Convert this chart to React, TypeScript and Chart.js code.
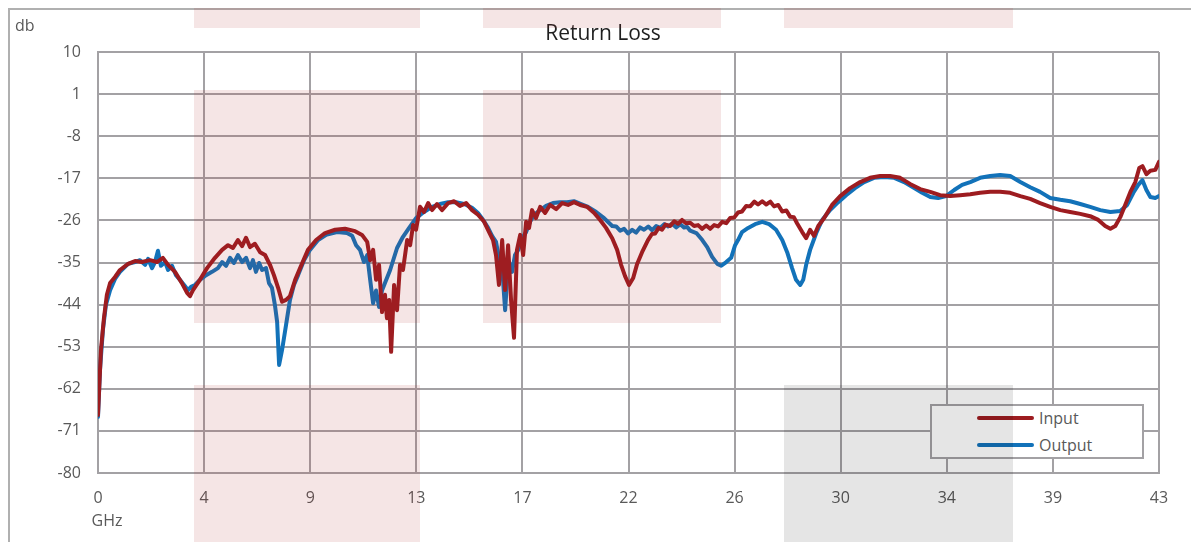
import React, { useEffect, useRef } from "react";
import { Chart, registerables } from "chart.js";

Chart.register(...registerables);

const chartTitle = "Return Loss";
const yAxisLabel = "db";
const xAxisLabel = "GHz";

const xTickValues = [0, 4.3, 8.6, 12.9, 17.2, 21.5, 25.8, 30.1, 34.4, 38.7, 43];
const xTickLabels = ["0", "4", "9", "13", "17", "22", "26", "30", "34", "39", "43"];
const yTickValues = [-80, -71, -62, -53, -44, -35, -26, -17, -8, 1, 10];

const inputFreq = [
  0, 0.12, 0.24, 0.36, 0.49, 0.69, 0.89, 1.22, 1.5, 1.78, 2.11, 2.39, 2.63, 2.84, 3.12, 3.4, 3.61, 3.73, 3.85,
  4.13, 4.42, 4.74, 5.03, 5.27, 5.47, 5.67, 5.84, 6.0, 6.16, 6.36, 6.57, 6.77, 6.97, 7.13, 7.3, 7.46, 7.62, 7.78,
  7.99, 8.19, 8.51, 8.84, 9.2, 9.61, 10.01, 10.42, 10.7, 10.91, 11.03, 11.15, 11.27, 11.39, 11.51, 11.63, 11.71,
  11.8, 11.88, 12.0, 12.12, 12.24, 12.36, 12.53, 12.65, 12.77, 12.89, 13.05, 13.21, 13.38, 13.54, 13.74, 13.94,
  14.19, 14.43, 14.67, 14.92, 15.16, 15.4, 15.65, 15.85, 16.01, 16.13, 16.25, 16.38, 16.5, 16.62, 16.74, 16.86,
  16.98, 17.11, 17.23, 17.35, 17.47, 17.59, 17.75, 17.92, 18.12, 18.32, 18.57, 18.81, 19.05, 19.29, 19.54, 19.82,
  20.11, 20.35, 20.59, 20.84, 21.04, 21.2, 21.36, 21.52, 21.69, 21.85, 22.05, 22.29, 22.45, 22.58, 22.72, 22.86,
  23.0, 23.19, 23.35, 23.51, 23.67, 23.83, 24.0, 24.16, 24.32, 24.48, 24.65, 24.81, 24.97, 25.13, 25.3, 25.46,
  25.62, 25.78, 25.94, 26.1, 26.27, 26.43, 26.6, 26.75, 26.92, 27.08, 27.25, 27.4, 27.57, 27.73, 27.9, 28.05,
  28.2, 28.33, 28.54, 28.7, 28.86, 29.02, 29.19, 29.43, 29.75, 30.08, 30.48, 30.89, 31.29, 31.7, 32.1, 32.51,
  32.91, 33.32, 33.73, 34.13, 34.54, 34.94, 35.35, 35.75, 36.16, 36.56, 36.97, 37.38, 37.78, 38.18, 38.59, 39.0,
  39.4, 39.81, 40.21, 40.54, 40.82, 41.03, 41.23, 41.43, 41.63, 41.84, 42.04, 42.2, 42.33, 42.49, 42.65, 42.85,
  43.0,
];
const inputDb = [
  -67.6, -53.7, -46.9, -41.9, -39.4, -38.1, -36.6, -35.3, -34.7, -34.9, -34.5, -34.9, -34.0, -35.5, -37.0, -39.4,
  -41.5, -42.2, -40.9, -38.7, -36.2, -34.0, -32.3, -31.3, -31.9, -30.2, -31.5, -29.7, -31.7, -31.0, -32.8, -33.4,
  -35.5, -37.7, -40.4, -43.4, -43.0, -42.2, -38.7, -36.2, -32.3, -30.2, -28.7, -28.0, -27.8, -28.3, -29.1, -30.6,
  -34.5, -32.3, -38.7, -35.5, -45.6, -41.9, -46.9, -43.0, -54.1, -39.8, -45.2, -35.5, -36.6, -30.2, -31.3, -27.0,
  -28.0, -23.1, -24.2, -22.3, -23.8, -22.5, -23.8, -22.3, -21.9, -22.9, -22.3, -23.8, -24.8, -26.3, -28.5, -30.2,
  -33.4, -39.8, -30.2, -40.9, -31.3, -43.0, -51.1, -32.3, -29.1, -33.4, -26.3, -27.6, -23.8, -25.5, -23.1, -24.4,
  -22.7, -23.6, -22.3, -22.7, -22.1, -22.7, -23.1, -24.4, -25.9, -27.6, -29.8, -32.3, -35.5, -37.9, -39.8, -38.3,
  -35.3, -32.8, -30.2, -28.9, -28.8, -27.6, -28.0, -26.9, -27.2, -26.2, -26.7, -25.9, -26.6, -26.5, -27.2, -27.0,
  -27.8, -27.1, -27.8, -27.0, -27.3, -26.3, -26.6, -25.5, -25.4, -24.3, -24.1, -22.9, -23.0, -22.0, -22.6, -21.9,
  -22.6, -22.0, -23.0, -22.7, -24.1, -23.9, -25.2, -25.3, -26.6, -28.5, -29.8, -28.0, -29.3, -27.2, -25.5, -22.7,
  -20.8, -19.1, -17.8, -16.9, -16.5, -16.5, -16.9, -18.2, -19.3, -19.9, -20.6, -20.8, -20.6, -20.4, -20.1, -19.9,
  -19.9, -20.1, -20.8, -21.4, -22.3, -23.1, -23.8, -24.2, -24.6, -25.1, -25.9, -27.2, -27.8, -27.2, -25.3, -22.7,
  -19.9, -17.8, -14.8, -14.4, -16.1, -15.4, -15.2, -13.5,
];

const outputFreq = [
  0, 0.08, 0.2, 0.32, 0.49, 0.69, 0.89, 1.22, 1.5, 1.7, 1.91, 2.03, 2.19, 2.31, 2.43, 2.55, 2.72, 2.84, 3.0, 3.16,
  3.32, 3.49, 3.65, 3.77, 3.93, 4.13, 4.38, 4.62, 4.86, 5.03, 5.19, 5.35, 5.51, 5.67, 5.84, 6.0, 6.16, 6.28, 6.4,
  6.53, 6.65, 6.81, 6.93, 7.05, 7.17, 7.26, 7.34, 7.46, 7.62, 7.78, 7.94, 8.11, 8.35, 8.59, 8.92, 9.28, 9.69, 10.09,
  10.3, 10.46, 10.62, 10.78, 10.91, 11.03, 11.15, 11.27, 11.39, 11.51, 11.63, 11.84, 12.12, 12.36, 12.61, 12.89,
  13.21, 13.54, 13.86, 14.19, 14.51, 14.84, 15.16, 15.4, 15.61, 15.81, 15.97, 16.13, 16.25, 16.38, 16.5, 16.58,
  16.66, 16.78, 16.9, 17.03, 17.19, 17.35, 17.51, 17.67, 17.92, 18.16, 18.44, 18.73, 19.01, 19.29, 19.58, 19.86,
  20.19, 20.51, 20.84, 21.0, 21.16, 21.32, 21.48, 21.65, 21.81, 21.97, 22.13, 22.3, 22.46, 22.62, 22.78, 22.95,
  23.11, 23.27, 23.43, 23.6, 23.75, 23.88, 24.0, 24.25, 24.49, 24.69,
  24.89, 25.1, 25.26, 25.46, 25.66, 25.82, 25.94, 26.1, 26.35, 26.63, 26.92, 27.2, 27.48, 27.73, 27.93, 28.13,
  28.29, 28.46, 28.58, 28.7, 28.86, 29.11, 29.35, 29.67, 30.0, 30.32, 30.68, 31.05, 31.45, 31.86, 32.27, 32.67,
  33.08, 33.4, 33.73, 34.05, 34.37, 34.7, 35.02, 35.35, 35.75, 36.16, 36.56, 36.97, 37.38, 37.78, 38.18, 38.59,
  39.0, 39.4, 39.81, 40.21, 40.62, 41.03, 41.43, 41.71, 41.96, 42.16, 42.33, 42.49, 42.65, 42.85, 43.0,
];
const outputDb = [
  -68.0, -58.0, -49.4, -44.1, -40.9, -38.5, -37.0, -35.3, -34.9, -34.5, -35.5, -34.2, -36.2, -34.9, -32.5, -35.7,
  -34.9, -36.6, -35.7, -37.7, -38.7, -39.8, -40.9, -40.2, -39.8, -38.7, -37.7, -37.0, -36.2, -34.9, -35.7, -34.0,
  -35.1, -33.4, -34.9, -34.0, -36.2, -34.5, -37.0, -35.1, -36.6, -36.2, -39.4, -40.4, -44.1, -47.7, -56.9, -53.7,
  -48.4, -43.0, -39.8, -37.7, -34.5, -32.3, -30.2, -29.0, -28.5, -28.7, -29.3, -31.3, -32.3, -34.9, -33.4, -38.7,
  -43.7, -41.0, -44.5, -41.0, -39.4, -36.6, -31.9, -29.5, -27.6, -25.5, -24.2, -23.1, -22.5, -22.1, -22.1, -22.5,
  -23.3, -24.4, -25.9, -27.6, -29.3, -30.6, -34.0, -36.2, -45.2, -38.7, -34.9, -37.0, -33.4, -32.3, -29.8, -28.5,
  -26.3, -24.8, -23.8, -22.9, -22.3, -22.1, -22.1, -21.9, -22.5, -23.1, -24.2, -25.5, -27.2, -27.3, -28.2, -27.8,
  -28.8, -28.0, -28.6, -27.5, -28.0, -27.3, -28.1, -27.2, -27.6, -26.8, -27.3, -26.7, -27.5, -26.8, -27.5, -27.4,
  -28.2, -28.7, -30.2, -31.7, -33.8, -35.3, -35.7, -34.9, -34.0, -31.3,
  -30.2, -28.5, -27.6, -26.8, -26.3, -26.8, -28.0, -30.2, -32.8, -36.2, -38.7, -39.8, -38.7, -35.5, -32.3, -28.7,
  -25.9, -23.8, -22.1, -20.6, -19.1, -17.8, -16.9, -16.7, -16.9, -17.8, -19.1, -20.1, -21.0, -21.2, -20.8, -19.5,
  -18.4, -17.8, -16.9, -16.5, -16.3, -16.5, -17.8, -18.9, -19.9, -21.2, -21.6, -21.9, -22.5, -23.1, -23.8, -24.2,
  -24.0, -22.7, -20.1, -18.4, -17.4, -19.5, -21.0, -21.2, -20.8,
];

const seriesNames = ["Input", "Output"];
const seriesColors = ["#9d1c20", "#1272b9"];

const FONT = "'Open Sans', 'Noto Sans', sans-serif";
const GRID = "#a3a1a4";
const TEXT = "#595959";
const FRAME = "#b0b0b0";

const pink = "rgba(170, 40, 40, 0.12)";
const gray = "rgba(0, 0, 0, 0.1)";

const overlays: { l: number; t: number; w: number; h: number; c: string }[] = [
  { l: 186, t: -8, w: 226, h: 28, c: pink },
  { l: 186, t: 82, w: 226, h: 233, c: pink },
  { l: 186, t: 377, w: 226, h: 160, c: pink },
  { l: 475, t: -8, w: 238, h: 28, c: pink },
  { l: 475, t: 82, w: 238, h: 233, c: pink },
  { l: 776, t: -8, w: 229, h: 28, c: pink },
  { l: 776, t: 377, w: 229, h: 160, c: gray },
];

const textPlugin = {
  id: "extraText",
  beforeDraw(chart: any) {
    const ctx = chart.ctx;
    ctx.save();
    ctx.fillStyle = FRAME;
    ctx.fillRect(0, 0, 2, chart.height);
    ctx.fillRect(0, 0, chart.width, 2);
    ctx.restore();
  },
  afterDraw(chart: any) {
    const ctx = chart.ctx;
    ctx.save();
    ctx.fillStyle = "#1f1f1f";
    ctx.font = `21px ${FONT}`;
    ctx.textAlign = "center";
    ctx.textBaseline = "middle";
    ctx.fillText(chartTitle, 595, 26);
    ctx.fillStyle = TEXT;
    ctx.font = `16px ${FONT}`;
    ctx.textAlign = "left";
    ctx.fillText(yAxisLabel, 7, 18);
    ctx.textAlign = "center";
    ctx.fillText(xAxisLabel, 99, 513);
    ctx.restore();
  },
};

export default function App() {
  const ref = useRef<HTMLCanvasElement | null>(null);
  useEffect(() => {
    document.body.style.overflow = "hidden";
    if (!ref.current) return;
    const chart = new Chart(ref.current, {
      type: "line",
      data: {
        datasets: [
          {
            label: seriesNames[0],
            data: inputFreq.map((f, i) => ({ x: f, y: inputDb[i] })),
            borderColor: seriesColors[0],
            backgroundColor: seriesColors[0],
            borderWidth: 4,
            pointRadius: 0,
            tension: 0,
            borderJoinStyle: "round",
            borderCapStyle: "round",
          },
          {
            label: seriesNames[1],
            data: outputFreq.map((f, i) => ({ x: f, y: outputDb[i] })),
            borderColor: seriesColors[1],
            backgroundColor: seriesColors[1],
            borderWidth: 4,
            pointRadius: 0,
            tension: 0,
            borderJoinStyle: "round",
            borderCapStyle: "round",
          },
        ],
      },
      options: {
        responsive: false,
        animation: false,
        layout: { padding: { left: 0, right: 40, top: 44, bottom: 19 } },
        plugins: { legend: { display: false }, title: { display: false }, tooltip: { enabled: false } },
        scales: {
          x: {
            type: "linear",
            min: 0,
            max: 43,
            afterBuildTicks: (s: any) => {
              s.ticks = xTickValues.map((v) => ({ value: v }));
            },
            afterFit: (s: any) => {
              s.height = 50;
            },
            ticks: {
              color: TEXT,
              font: { family: FONT, size: 16 },
              padding: 16,
              maxRotation: 0,
              autoSkip: false,
              callback: (_v: any, i: number) => xTickLabels[i],
            },
            grid: { color: GRID, lineWidth: 2, drawTicks: false },
            border: { display: true, color: GRID, width: 2 },
          },
          y: {
            type: "linear",
            min: -80,
            max: 10,
            afterBuildTicks: (s: any) => {
              s.ticks = yTickValues.map((v) => ({ value: v }));
            },
            afterFit: (s: any) => {
              s.width = 90;
            },
            ticks: {
              color: TEXT,
              font: { family: FONT, size: 16 },
              padding: 17,
              autoSkip: false,
            },
            grid: { color: GRID, lineWidth: 2, drawTicks: false },
            border: { display: true, color: GRID, width: 2 },
          },
        },
      },
      plugins: [textPlugin],
    } as any);
    return () => chart.destroy();
  }, []);

  return (
    <div style={{ position: "relative", width: 1191, height: 534 }}>
      <canvas ref={ref} width={1191} height={534} style={{ position: "absolute", left: 0, top: 0, display: "block" }} />
      <div
        style={{
          position: "absolute",
          left: 922,
          top: 396,
          width: 214,
          height: 55,
          boxSizing: "border-box",
          border: "2px solid #a3a1a4",
          background: "#ffffff",
          fontFamily: FONT,
          fontSize: 16,
          color: TEXT,
        }}
      >
        {seriesNames.map((n, i) => (
          <div key={n} style={{ position: "absolute", left: 45, top: 2 + i * 27, height: 20, display: "flex", alignItems: "center" }}>
            <span style={{ display: "inline-block", width: 57, height: 4, borderRadius: 2, background: seriesColors[i] }} />
            <span style={{ marginLeft: 5, lineHeight: "20px" }}>{n}</span>
          </div>
        ))}
      </div>
      {overlays.map((o, i) => (
        <div
          key={i}
          style={{ position: "absolute", left: o.l, top: o.t, width: o.w, height: o.h, background: o.c, pointerEvents: "none" }}
        />
      ))}
    </div>
  );
}
